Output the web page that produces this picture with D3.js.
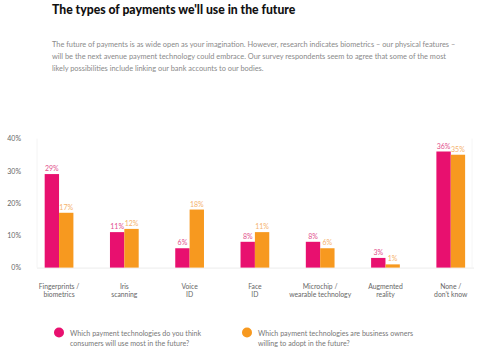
<!DOCTYPE html>
<html>
<head>
<meta charset="utf-8">
<script src="https://cdn.jsdelivr.net/npm/d3@7"></script>
<style>
  body { margin: 0; background: #fff; }
  #app { width: 500px; height: 351px; }
  text { font-family: Lato, 'Open Sans', sans-serif; }
</style>
</head>
<body>
<div id="app"></div>
<script>
'use strict'

const categories = [
  ['Fingerprints /', 'biometrics'],
  ['Iris', 'scanning'],
  ['Voice', 'ID'],
  ['Face', 'ID'],
  ['Microchip /', 'wearable technology'],
  ['Augmented', 'reality'],
  ['None /', "don't know"]
]
const consumers = [29, 11, 6, 8, 8, 3, 36]
const owners = [17, 12, 18, 11, 6, 1, 35]
const yTicks = [0, 10, 20, 30, 40]
const seriesNames = [
  ['Which payment technologies do you think', 'consumers will use most in the future?'],
  ['Which payment technologies are business owners', 'willing to adopt in the future?']
]
const title = "The types of payments we'll use in the future"
const intro = [
  'The future of payments is as wide open as your imagination. However, research indicates biometrics \u2013 our physical features \u2013',
  'will be the next avenue payment technology could embrace. Our survey respondents seem to agree that some of the most',
  'likely possibilities include linking our bank accounts to our bodies.'
]

const colors = ['#e8106f', '#f7991f']
const labelColors = ['#e2508c', '#f5b26c']

const svg = d3.select('#app').append('svg')
  .attr('width', 500)
  .attr('height', 351)

// heading + intro text
svg.append('text')
  .attr('x', 52).attr('y', 14)
  .style('font-size', '12.2px')
  .style('font-weight', 900)
  .style('fill', '#111')
  .text(title)

svg.selectAll('.intro')
  .data(intro)
  .enter().append('text')
  .attr('class', 'intro')
  .attr('x', 52)
  .attr('y', (d, i) => 46.5 + i * 12)
  .style('font-size', '7.4px')
  .style('fill', '#8a8a8a')
  .text(d => d)

/*
 * scales
 */
const x = d3.scaleBand()
  .domain(d3.range(categories.length))
  .range([26.4, 483.4])
  .paddingInner(0.56)
  .paddingOuter(0.28)

const y = d3.scaleLinear()
  .domain([0, 40])
  .range([267.6, 138.6])

// faint frame lines
svg.append('line')
  .attr('x1', 37).attr('x2', 37)
  .attr('y1', y(40)).attr('y2', y(0))
  .style('stroke', '#f4f4f4')
svg.append('line')
  .attr('x1', 472).attr('x2', 472)
  .attr('y1', y(40)).attr('y2', y(0))
  .style('stroke', '#f6f6f6')
svg.append('line')
  .attr('x1', 37).attr('x2', 474)
  .attr('y1', y(0) + 0.5).attr('y2', y(0) + 0.5)
  .style('stroke', '#ececec')

// y axis labels
const yAxis = svg.append('g')
  .attr('transform', 'translate(21,0)')
  .call(d3.axisLeft(y).tickValues(yTicks).tickSize(0).tickPadding(0).tickFormat(d => d + '%'))
yAxis.select('.domain').remove()
yAxis.selectAll('text')
  .style('font-size', '7px')
  .style('fill', '#666')
  .style('font-family', 'Lato, sans-serif')

// bars
const bw = x.bandwidth() / 2
const series = [consumers, owners]
series.forEach((vals, s) => {
  svg.selectAll('.bar' + s)
    .data(vals)
    .enter().append('rect')
    .attr('class', 'bar' + s)
    .attr('x', (d, i) => x(i) + s * bw)
    .attr('y', d => y(d))
    .attr('width', bw)
    .attr('height', d => y(0) - y(d))
    .style('fill', colors[s])

  svg.selectAll('.lab' + s)
    .data(vals)
    .enter().append('text')
    .attr('class', 'lab' + s)
    .attr('x', (d, i) => x(i) + s * bw + bw / 2)
    .attr('y', d => y(d) - 3)
    .attr('text-anchor', 'middle')
    .style('font-size', '7px')
    .style('fill', labelColors[s])
    .text(d => d + '%')
})

// category labels
const cat = svg.selectAll('.cat')
  .data(categories)
  .enter().append('text')
  .attr('class', 'cat')
  .attr('text-anchor', 'middle')
  .style('font-size', '6.8px')
  .style('fill', '#666')
cat.selectAll('tspan')
  .data((d, i) => d.map(t => ({ t, i })))
  .enter().append('tspan')
  .attr('x', d => x(d.i) + x.bandwidth() / 2)
  .attr('y', (d, j) => 289 + j * 8)
  .text(d => d.t)

// legend
const legendX = [59, 247]
seriesNames.forEach((lines, s) => {
  svg.append('circle')
    .attr('cx', legendX[s]).attr('cy', 332.5)
    .attr('r', 5)
    .style('fill', colors[s])
  svg.selectAll('.leg' + s)
    .data(lines)
    .enter().append('text')
    .attr('class', 'leg' + s)
    .attr('x', legendX[s] + 11)
    .attr('y', (d, i) => 336 + i * 9.5)
    .style('font-size', '7.1px')
    .style('fill', '#777')
    .text(d => d)
})
</script>
</body>
</html>
